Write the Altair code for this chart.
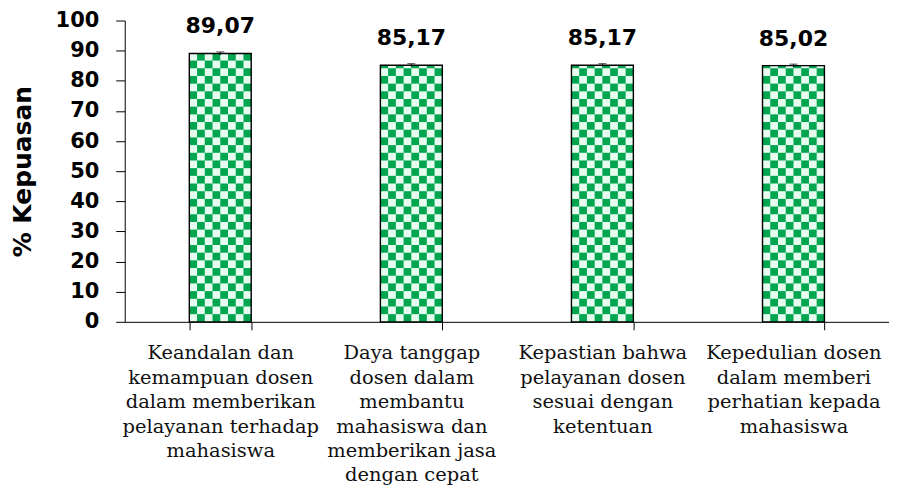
import math
import altair as alt
import pandas as pd

# ---- data ----
label_lines = [
    ["Keandalan dan", "kemampuan dosen", "dalam memberikan", "pelayanan terhadap", "mahasiswa"],
    ["Daya tanggap", "dosen dalam", "membantu", "mahasiswa dan", "memberikan jasa", "dengan cepat"],
    ["Kepastian bahwa", "pelayanan dosen", "sesuai dengan", "ketentuan"],
    ["Kepedulian dosen", "dalam memberi", "perhatian kepada", "mahasiswa"],
]
categories = ["|".join(l) for l in label_lines]
values = [89.07, 85.17, 85.17, 85.02]
value_labels = ["89,07", "85,17", "85,17", "85,02"]
errors = [0.5, 0.5, 0.5, 0.5]

DARK = "#00a550"
LIGHT = "#e6fcef"
N_COLS = 8
CELL_H = 2.55  # checker cell height in % units

df = pd.DataFrame({
    "cat": categories,
    "value": values,
    "label": value_labels,
    "lo": [v - e for v, e in zip(values, errors)],
    "hi": [v + e for v, e in zip(values, errors)],
})

cells = []
for c, v in zip(categories, values):
    n_rows = math.ceil(v / CELL_H)
    for i in range(n_rows):
        for j in range(N_COLS):
            if (i + j) % 2 == 0:
                cells.append({"cat": c, "col": j, "y0": i * CELL_H,
                              "y1": min((i + 1) * CELL_H, v)})
cells_df = pd.DataFrame(cells)

xscale = alt.Scale(domain=categories, paddingInner=0.676, paddingOuter=0.338)
yscale = alt.Scale(domain=[0, 100], nice=False)

x_axis = alt.Axis(
    title=None, labelAngle=0, labelFont="DejaVu Serif", labelFontSize=19.5,
    labelColor="#111111", labelLineHeight=24.5,
    labelExpr="datum.value ? split(datum.value, '|') : ''",
    labelLimit=0, labelPadding=14, tickBand="extent", tickSize=8,
    tickColor="black", domainColor="black", labelBaseline="top", grid=False)
y_axis = alt.Axis(
    title="% Kepuasan", titleFont="DejaVu Sans", titleFontSize=25, titleFontWeight="bold",
    titleColor="black", titlePadding=20, labelFont="DejaVu Sans", labelFontSize=21,
    labelFontWeight="bold", labelColor="black", values=list(range(0, 101, 10)),
    tickSize=9, tickColor="black", domainColor="black", grid=False, labelPadding=17)

def X():
    return alt.X("cat:N", scale=xscale, sort=categories, axis=x_axis)

def Y(field):
    return alt.Y(field, scale=yscale, axis=y_axis)

base = alt.Chart(df)
bars = base.mark_bar(color=DARK).encode(x=X(), y=Y("value:Q"))

checks = alt.Chart(cells_df).mark_rect(color=LIGHT).encode(
    x=X(),
    xOffset=alt.XOffset("col:O", scale=alt.Scale(paddingInner=0, paddingOuter=0)),
    y=Y("y0:Q"),
    y2="y1:Q",
)

outline = base.mark_bar(fillOpacity=0, stroke="black", strokeWidth=1.4).encode(
    x=X(), y=Y("value:Q"))

err = base.mark_rule(color="black", strokeWidth=1).encode(
    x=X(), y=Y("lo:Q"), y2="hi:Q")
caps = base.mark_tick(color="black", size=8, thickness=1).encode(
    x=X(), y=Y("hi:Q"))

text = base.mark_text(font="DejaVu Sans", fontSize=22, fontWeight="bold", color="black",
                      baseline="bottom", dy=-15).encode(
    x=X(), y=Y("value:Q"), text="label:N")

chart = alt.layer(bars, checks, outline, err, caps, text).properties(
    width=766, height=302,
    padding={"left": 2, "top": 1, "right": 0, "bottom": 0},
).configure(background="white").configure_view(stroke=None)

chart.save("out.html", embed_options={"renderer": "svg", "actions": False})
